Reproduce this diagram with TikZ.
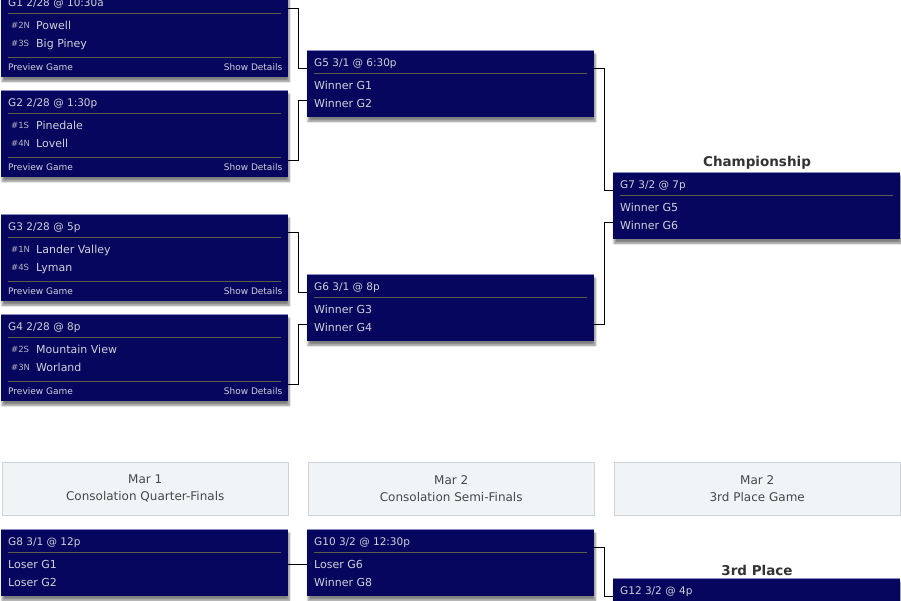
\documentclass[tikz,border=0pt]{standalone}
\usepackage{fontspec}
\setmainfont{DejaVu Sans}
\usetikzlibrary{shadows.blur}

\definecolor{gamenavy}{HTML}{06065E}
\definecolor{gametext}{HTML}{D0D0D8}
\definecolor{seedtext}{HTML}{B4B4C0}
\definecolor{gamerule}{HTML}{5E5C46}
\definecolor{gametop}{HTML}{8C8CC4}
\definecolor{roundfill}{HTML}{F1F4F6}
\definecolor{roundline}{HTML}{CDD3D8}
\definecolor{titlegray}{HTML}{333333}

\tikzset{
  gamebox/.style={fill=gamenavy, minimum width=287pt, inner sep=0pt, anchor=north west,
    blur shadow={shadow xshift=1pt, shadow yshift=-4pt, shadow blur steps=6, shadow opacity=50}},
  topline/.style={draw=gametop, line width=0.8pt},
  rule/.style={draw=gamerule, line width=0.8pt},
  hdrtext/.style={anchor=west, inner sep=0pt, text=gametext, text height=8pt, text depth=2pt, font=\fontsize{10.5}{12}\selectfont},
  teamtext/.style={anchor=west, inner sep=0pt, text=gametext, text height=8pt, text depth=2pt, font=\fontsize{11}{12}\selectfont},
  seedtext/.style={anchor=west, inner sep=0pt, text=seedtext, text height=6.5pt, text depth=1.5pt, font=\fontsize{8.5}{10}\selectfont},
  foottext/.style={inner sep=0pt, text=gametext, text height=7pt, text depth=2pt, font=\fontsize{9}{10}\selectfont},
  roundbox/.style={draw=roundline, fill=roundfill, minimum width=286pt, minimum height=53pt, inner sep=0pt,
    anchor=north west, align=center, text=black!72, font=\fontsize{12}{17}\selectfont},
  title/.style={text=titlegray, inner sep=0pt, font=\bfseries\fontsize{13.5}{15}\selectfont},
  conn/.style={draw=black, line width=0.9pt}
}

\begin{document}
\begin{tikzpicture}[x=1pt, y=-1pt]
\useasboundingbox (0,0) rectangle (901,600);
\clip (0,0) rectangle (901,600);

% First round games
\foreach \n/\t/\hd/\sa/\ta/\sb/\tb in {
    1/-10/{G1 2/28 @ 10:30a}/2N/Powell/3S/Big Piney,
    2/90/{G2 2/28 @ 1:30p}/1S/Pinedale/4N/Lovell,
    3/214/{G3 2/28 @ 5p}/1N/Lander Valley/4S/Lyman,
    4/314/{G4 2/28 @ 8p}/2S/Mountain View/3N/Worland}{
  \node[gamebox, minimum height=87pt] (g\n) at (1,\t) {};
  \draw[topline] (g\n.north west) -- (g\n.north east);
  \node[hdrtext] (g\n-hd) at ([shift={(7,13)}]g\n.north west) {\hd};
  \draw[rule] ([shift={(7,23)}]g\n.north west) -- ([shift={(-7,23)}]g\n.north east);
  \node[seedtext] (g\n-sa) at ([shift={(10,36)}]g\n.north west) {\#\sa};
  \node[teamtext] (g\n-ta) at ([shift={(35,36)}]g\n.north west) {\ta};
  \node[seedtext] (g\n-sb) at ([shift={(10,54)}]g\n.north west) {\#\sb};
  \node[teamtext] (g\n-tb) at ([shift={(35,54)}]g\n.north west) {\tb};
  \draw[rule] ([shift={(7,67)}]g\n.north west) -- ([shift={(-7,67)}]g\n.north east);
  \node[foottext, anchor=west] (g\n-pv) at ([shift={(7,78)}]g\n.north west) {Preview Game};
  \node[foottext, anchor=east] (g\n-sd) at ([shift={(-6,78)}]g\n.north east) {Show Details};
}

% Later games
\foreach \n/\x/\t/\hd/\ra/\rb in {
    5/307/50/{G5 3/1 @ 6:30p}/Winner G1/Winner G2,
    6/307/274/{G6 3/1 @ 8p}/Winner G3/Winner G4,
    7/613/172/{G7 3/2 @ 7p}/Winner G5/Winner G6,
    8/1/529/{G8 3/1 @ 12p}/Loser G1/Loser G2,
    10/307/529/{G10 3/2 @ 12:30p}/Loser G6/Winner G8}{
  \node[gamebox, minimum height=67pt] (g\n) at (\x,\t) {};
  \draw[topline] (g\n.north west) -- (g\n.north east);
  \node[hdrtext] (g\n-hd) at ([shift={(7,13)}]g\n.north west) {\hd};
  \draw[rule] ([shift={(7,23)}]g\n.north west) -- ([shift={(-7,23)}]g\n.north east);
  \node[teamtext] (g\n-ra) at ([shift={(7,36)}]g\n.north west) {\ra};
  \node[teamtext] (g\n-rb) at ([shift={(7,54)}]g\n.north west) {\rb};
}

% 3rd place game
\node[gamebox, minimum height=67pt] (g12) at (613,578) {};
\draw[topline] (g12.north west) -- (g12.north east);
\node[hdrtext] (g12-hd) at ([shift={(7,13)}]g12.north west) {G12 3/2 @ 4p};

% Titles
\node[title] (champ) at (757,163) {Championship};
\node[title] (third) at (757,570) {3rd Place};

% Round headers
\node[roundbox] (r1) at (2,462) {Mar 1\\Consolation Quarter-Finals};
\node[roundbox] (r2) at (308,462) {Mar 2\\Consolation Semi-Finals};
\node[roundbox] (r3) at (614,462) {Mar 2\\3rd Place Game};

% Bracket lines
\draw[conn] ([yshift=-18pt]g1.north east) -- ++(10,0) |- ([yshift=-18pt]g5.north west);
\draw[conn] ([yshift=17pt]g2.south east) -- ++(10,0) |- ([yshift=-50pt]g5.north west);
\draw[conn] ([yshift=-18pt]g3.north east) -- ++(10,0) |- ([yshift=-18pt]g6.north west);
\draw[conn] ([yshift=17pt]g4.south east) -- ++(10,0) |- ([yshift=-50pt]g6.north west);
\draw[conn] ([yshift=-18pt]g5.north east) -- ++(10,0) |- ([yshift=-18pt]g7.north west);
\draw[conn] ([yshift=-50pt]g6.north east) -- ++(10,0) |- ([yshift=-50pt]g7.north west);
\draw[conn] ([yshift=-35pt]g8.north east) -- ([yshift=-35pt]g10.north west);
\draw[conn] ([yshift=-18pt]g10.north east) -- ++(10,0) |- ([yshift=-18pt]g12.north west);

\end{tikzpicture}
\end{document}
